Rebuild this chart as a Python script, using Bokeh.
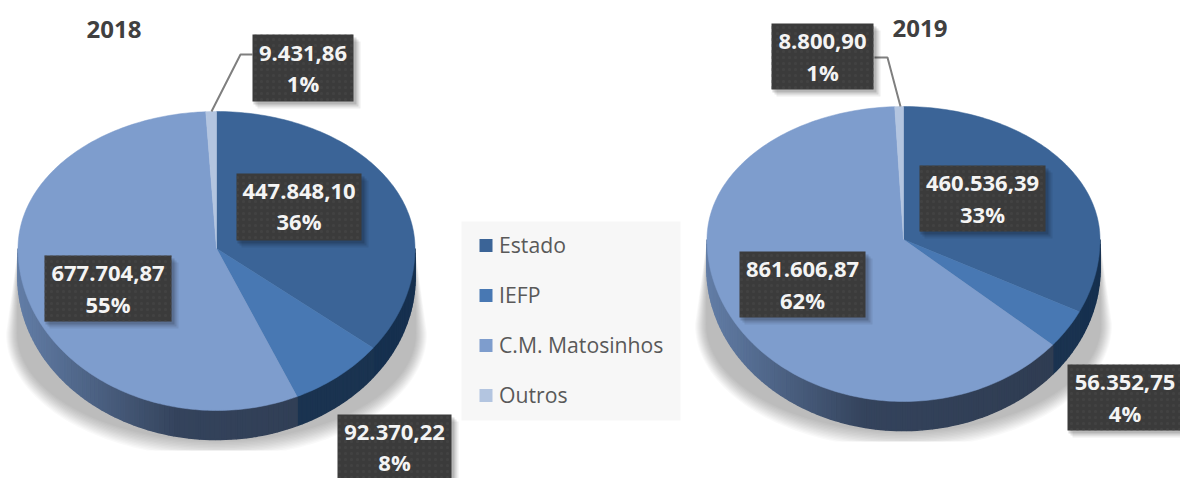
import numpy as np
from bokeh.plotting import figure
from bokeh.models import Range1d
from bokeh.core.properties import value
from bokeh.embed import file_html
from bokeh.resources import INLINE

categories = ["Estado", "IEFP", "C.M. Matosinhos", "Outros"]
values_2018 = [447848.10, 92370.22, 677704.87, 9431.86]
values_2019 = [460536.39, 56352.75, 861606.87, 8800.90]
colors = ["#3B6497", "#4878B3", "#7E9DCD", "#B3C5E0"]
side_colors = ["#16304F", "#1A3350", None, "#8FA6C8"]
FONT = "Open Sans"
PERSPECTIVE = np.radians(3.5)

p = figure(width=1180, height=478, output_backend="svg", toolbar_location=None,
           x_range=Range1d(0, 1180), y_range=Range1d(478, 0),
           min_border=0, background_fill_color="white", border_fill_color="white")
p.axis.visible = False
p.grid.visible = False
p.outline_line_color = None


def fmt(v):
    s = f"{v:,.2f}"
    return s.replace(",", "X").replace(".", ",").replace("X", ".")


def rim(cx, cy, rx, up, down, th):
    x = cx + rx * np.sin(th)
    c = -np.cos(th)
    y = cy + c * np.where(c < 0, up, down)
    return x, y


def mix(a, b, t):
    a = [int(a[i:i + 2], 16) for i in (1, 3, 5)]
    b = [int(b[i:i + 2], 16) for i in (1, 3, 5)]
    return "#%02x%02x%02x" % tuple(int(round(u + (w - u) * t)) for u, w in zip(a, b))


def pie(vals, cx, cy, rx, up, down, depth, shadow_bottom):
    # soft shadow under the body, tapering upward to the rim
    n = 12
    body_bottom = cy + down + depth
    sy = cy + 85
    for k in range(n):
        e = 12 * (1 - k / n)
        th = np.linspace(np.pi / 2, 3 * np.pi / 2, 90)
        x = cx + (rx + e) * np.sin(th)
        y = sy - np.cos(th) * (body_bottom - sy + 1.5 * e)
        y = np.minimum(y, shadow_bottom)
        x = np.r_[cx + rx, x, cx - rx]
        y = np.r_[cy, y, cy]
        p.patch(x, y, fill_color="#000000", fill_alpha=0.022, line_color=None)

    vals = np.array(vals)
    edges = np.concatenate([[0], np.cumsum(vals) / vals.sum()]) * 2 * np.pi
    # the tilted view squeezes the slices on the near side of the pie
    edges = edges + PERSPECTIVE * np.sin(2 * edges)

    # side wall
    xs, ys, cs = [], [], []
    left, right = cx - rx, cx + rx
    for i in range(len(vals)):
        lo, hi = max(edges[i], np.pi / 2), min(edges[i + 1], 3 * np.pi / 2)
        if hi <= lo:
            continue
        steps = max(2, int((hi - lo) / np.radians(1.5)))
        t = np.linspace(lo, hi, steps + 1)
        for a, b in zip(t[:-1], t[1:]):
            seg = np.array([a, b])
            x, y = rim(cx, cy, rx, up, down, seg)
            xs.append([x[0], x[1], x[1], x[0]])
            ys.append([y[0], y[1], y[1] + depth, y[0] + depth])
            if side_colors[i] is None:
                f = (x.mean() - left) / (right - left)
                if f < 0.4:
                    c = mix("#627DA6", "#34435C", f / 0.4)
                else:
                    c = mix("#34435C", "#2E3B50", (f - 0.4) / 0.6)
            else:
                c = side_colors[i]
            cs.append(c)
    p.patches(xs, ys, fill_color=cs, line_color=cs, line_width=1.6)

    # top face, one wedge per category
    for i in range(len(vals)):
        th = np.linspace(edges[i], edges[i + 1], max(3, int((edges[i + 1] - edges[i]) / 0.02)))
        x, y = rim(cx, cy, rx, up, down, th)
        p.patch(np.r_[cx, x], np.r_[cy, y], fill_color=colors[i], line_color=colors[i], line_width=0.5)


def label(val, share, box, ty):
    x0, x1, y0, y1 = box
    for d, a in ((7, 0.07), (5, 0.10), (3, 0.14)):
        p.quad(left=x0 + d - 2, right=x1 + d, top=y0 + d, bottom=y1 + d,
               fill_color="#000000", fill_alpha=a, line_color=None)
    p.quad(left=x0, right=x1, top=y0, bottom=y1, fill_color="#3B3B3B", line_color=None,
           hatch_pattern="dot", hatch_color="#4A4A4A", hatch_scale=6, hatch_alpha=0.5)
    mid = (x0 + x1) / 2
    p.text([mid, mid], ty, text=[fmt(val), f"{round(share)}%"], text_color="#F4F4F4",
           text_font=value(FONT), text_font_style="bold", text_font_size="22px",
           text_align="center", text_baseline="middle")


pie(values_2018, 216, 248, 198.5, 137, 162, 29, 450)
pie(values_2019, 903, 239, 196.5, 133, 162, 29, 441)

# leader lines
p.line([211, 240, 252], [111, 54, 54], line_color="#7F7F7F", line_width=2)
p.line([900, 887, 874], [106, 57, 57], line_color="#7F7F7F", line_width=2)

boxes_2018 = [(236, 361, 173, 240), (337, 451, 414, 480), (44, 171, 255, 321), (252, 353, 34, 101)]
texty_2018 = [(191, 220), (432, 461), (273, 303), (53, 82)]
boxes_2019 = [(919, 1045, 165, 231), (1067, 1182, 364, 430), (739, 865, 251, 317), (771, 873, 23, 89)]
texty_2019 = [(183, 213), (382, 412), (269, 299), (41, 71)]

for vals, boxes, texty in ((values_2018, boxes_2018, texty_2018), (values_2019, boxes_2019, texty_2019)):
    tot = sum(vals)
    for v, b, t in zip(vals, boxes, texty):
        label(v, 100 * v / tot, b, list(t))

# titles
p.text([113.5, 919.5], [29, 28], text=["2018", "2019"], text_color="#404040",
       text_font=value(FONT), text_font_style="bold", text_font_size="24px",
       text_align="center", text_baseline="middle")

# legend
p.quad(left=461, right=680, top=221, bottom=420, fill_color="#F7F7F7", line_color=None)
leg_y = [244, 294, 344, 394]
p.quad(left=[479] * 4, right=[492] * 4, top=[y - 5.5 for y in leg_y], bottom=[y + 7.5 for y in leg_y],
       fill_color=colors, line_color=None)
p.text([498.5] * 4, leg_y, text=categories, text_color="#595959", text_font=value(FONT),
       text_font_size="21.2px", text_align="left", text_baseline="middle")

open("out.html", "w").write(file_html(p, INLINE))
